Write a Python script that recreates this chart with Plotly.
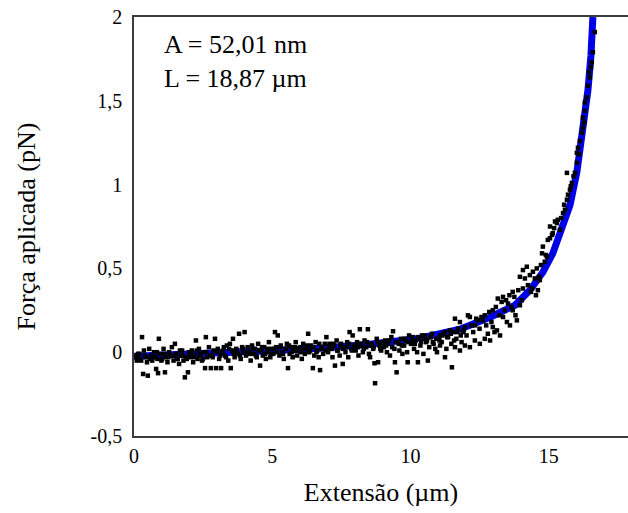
import plotly.graph_objects as go

# Experimental points: extension (um) and applied force (pN)
ext_um = [
    0.04, 0.10, 0.15, 0.21, 0.29, 0.33, 0.36, 0.42, 0.47, 0.50, 0.55, 0.61, 0.66, 0.72, 0.78, 0.80, 0.85, 0.87, 0.90, 0.96,
    1.02, 1.07, 1.12, 1.16, 1.21, 1.27, 1.32, 1.37, 1.43, 1.48, 1.52, 1.58, 1.63, 1.69, 1.74, 1.79, 1.84, 1.88, 1.95, 1.98,
    2.04, 2.09, 2.14, 2.19, 2.24, 2.30, 2.35, 2.41, 2.46, 2.52, 2.57, 2.60, 2.65, 2.71, 2.78, 2.82, 2.88, 2.93, 2.97,
    3.03, 3.08, 3.15, 3.19, 3.25, 3.30, 3.36, 3.41, 3.47, 3.50, 3.55, 3.58, 3.64, 3.70, 3.75, 3.80, 3.86, 3.91, 3.96, 4.00,
    4.05, 4.11, 4.16, 4.22, 4.27, 4.33, 4.38, 4.44, 4.49, 4.56, 4.60, 4.66, 4.71, 4.77, 4.82, 4.88, 4.93, 4.98,
    5.04, 5.10, 5.14, 5.20, 5.26, 5.31, 5.37, 5.42, 5.48, 5.53, 5.57, 5.63, 5.68, 5.74, 5.79, 5.85, 5.90, 5.96,
    6.02, 6.07, 6.12, 6.18, 6.23, 6.30, 6.34, 6.40, 6.47, 6.52, 6.57, 6.63, 6.68, 6.73, 6.78, 6.84, 6.90, 6.96,
    7.02, 7.07, 7.13, 7.18, 7.24, 7.27, 7.33, 7.38, 7.44, 7.49, 7.55, 7.60, 7.65, 7.71, 7.75, 7.80, 7.86, 7.91, 7.96,
    8.02, 8.07, 8.12, 8.17, 8.23, 8.28, 8.34, 8.40, 8.46, 8.50, 8.54, 8.60, 8.65, 8.70, 8.72, 8.78, 8.83, 8.88, 8.94, 8.99,
    9.04, 9.09, 9.15, 9.20, 9.26, 9.31, 9.37, 9.42, 9.44, 9.50, 9.55, 9.60, 9.66, 9.71, 9.77, 9.82, 9.88, 9.90, 9.95,
    10.02, 10.08, 10.13, 10.19, 10.24, 10.27, 10.31, 10.36, 10.42, 10.47, 10.52, 10.57, 10.63, 10.68, 10.73, 10.78, 10.84, 10.90, 10.96,
    11.02, 11.07, 11.07, 11.13, 11.19, 11.25, 11.25, 11.30, 11.36, 11.43, 11.48, 11.50, 11.55, 11.61, 11.61, 11.66, 11.72, 11.79, 11.79, 11.85, 11.90, 11.97, 11.97,
    12.03, 12.08, 12.15, 12.15, 12.21, 12.27, 12.33, 12.33, 12.38, 12.44, 12.50, 12.51, 12.57, 12.62, 12.69, 12.69, 12.74, 12.80, 12.85, 12.88, 12.93, 12.98, 12.98,
    13.04, 13.09, 13.13, 13.16, 13.21, 13.24, 13.30, 13.35, 13.35, 13.41, 13.46, 13.49, 13.53, 13.58, 13.60, 13.65, 13.70, 13.70, 13.76, 13.80, 13.85, 13.90, 13.96, 13.96,
    14.03, 14.07, 14.07, 14.14, 14.21, 14.25, 14.32, 14.36, 14.40, 14.43, 14.50, 14.54, 14.57, 14.61, 14.66, 14.68, 14.72, 14.76, 14.79, 14.86, 14.90, 14.94, 14.97,
    15.05, 15.05, 15.12, 15.15, 15.20, 15.23, 15.30, 15.33, 15.41, 15.45, 15.52, 15.56, 15.59, 15.66, 15.66, 15.70, 15.77, 15.80, 15.84, 15.90,
    15.95, 16.02, 16.02, 16.06, 16.10, 16.13, 16.20, 16.24, 16.24, 16.28, 16.31, 16.31, 16.38, 16.42, 16.46, 16.49, 16.53, 16.56, 16.60, 16.67,
    # dense main band
    0.07, 0.19, 0.26, 0.39, 0.58, 0.69, 0.83, 0.99, 1.10, 1.24, 1.40, 1.55, 1.66, 1.77, 1.91, 2.06, 2.17, 2.27, 2.38, 2.49,
    2.62, 2.74, 2.85, 3.00, 3.12, 3.22, 3.33, 3.44, 3.61, 3.72, 3.83, 3.94, 4.08, 4.19, 4.30, 4.41, 4.52, 4.63, 4.74, 4.85,
    4.96, 5.07, 5.17, 5.28, 5.39, 5.50, 5.61, 5.71, 5.82, 5.93, 6.04, 6.15, 6.26, 6.37, 6.49, 6.60, 6.70, 6.81, 6.93, 7.05,
    7.15, 7.21, 7.35, 7.46, 7.57, 7.68, 7.78, 7.88, 7.99, 8.10, 8.20, 8.31, 8.43, 8.57, 8.67, 8.81, 8.91, 9.02, 9.12, 9.23,
    9.34, 9.47, 9.58, 9.69, 9.80, 9.92, 10.05, 10.16, 10.29, 10.39, 10.50, 10.60, 10.71, 10.81, 10.93, 11.05, 11.16, 11.33, 11.46, 11.58,
    11.69, 11.82, 11.93,
]
force_pn = [
    -0.02, -0.05, -0.01, -0.04, 0.09, -0.13, 0.01, -0.03, -0.06, -0.14, 0.02, -0.02, -0.05, 0.00, -0.03, -0.10, -0.04, -0.125, 0.08, -0.01,
    -0.04, 0.02, -0.12, -0.03, -0.06, 0.00, -0.02, 0.03, -0.05, 0.05, -0.01, -0.04, -0.07, -0.02, 0.01, -0.05, -0.15, -0.03, -0.12, 0.00,
    -0.03, 0.01, -0.06, -0.02, 0.07, -0.04, 0.02, -0.01, -0.05, 0.00, -0.095, 0.09, -0.03, 0.03, -0.095, -0.02, 0.01, 0.08, -0.095,
    0.02, -0.04, -0.095, 0.00, 0.03, -0.02, 0.04, -0.05, 0.05, -0.095, 0.01, 0.08, -0.03, 0.02, -0.01, 0.11, -0.04, 0.03, 0.00, 0.12,
    -0.02, 0.03, 0.00, -0.05, 0.04, -0.01, 0.02, -0.03, 0.05, -0.08, 0.01, -0.02, 0.03, -0.04, 0.00, 0.06, -0.03, 0.02,
    -0.01, 0.12, 0.03, 0.10, -0.02, 0.04, 0.00, -0.04, 0.02, 0.05, -0.095, -0.01, 0.03, -0.03, 0.01, 0.06, -0.02, 0.02,
    0.03, -0.04, 0.05, -0.01, 0.02, 0.11, 0.00, 0.04, -0.095, -0.02, 0.06, 0.01, -0.03, -0.107, 0.03, -0.01, 0.05, 0.09,
    0.00, 0.05, 0.02, -0.03, 0.04, -0.08, 0.07, 0.01, -0.02, 0.05, -0.07, 0.03, 0.00, 0.06, -0.03, 0.12, 0.02, 0.10, 0.04,
    0.01, 0.06, -0.02, 0.137, 0.04, 0.00, 0.07, 0.03, 0.137, -0.01, -0.03, 0.05, 0.02, -0.066, -0.185, 0.08, -0.06, 0.04, 0.01, 0.06,
    0.03, 0.07, 0.00, 0.05, -0.02, 0.09, 0.125, 0.02, -0.06, -0.12, 0.06, 0.01, 0.08, -0.01, 0.04, 0.07, 0.00, -0.06, 0.10,
    0.05, 0.09, 0.02, 0.07, 0.00, -0.06, 0.08, 0.04, 0.10, -0.01, 0.10, 0.06, -0.05, 0.03, 0.09, 0.11, 0.05, 0.02, 0.00,
    0.08, 0.10, 0.04, 0.06, 0.11, 0.12, -0.03, 0.02, 0.09, 0.13, 0.05, -0.09, 0.12, 0.20, 0.03, 0.08, 0.14, 0.18, 0.01, 0.06, 0.12, 0.15, 0.04,
    0.10, 0.22, 0.21, 0.03, 0.16, 0.12, 0.16, 0.07, 0.20, 0.19, 0.14, 0.05, 0.21, 0.19, 0.22, 0.08, 0.16, 0.11, 0.24, 0.07, 0.18, 0.25, 0.15,
    0.12, 0.27, 0.13, 0.32, 0.22, 0.10, 0.30, 0.33, 0.21, 0.25, 0.31, 0.18, 0.29, 0.34, 0.16, 0.27, 0.36, 0.25, 0.33, 0.22, 0.19, 0.37, 0.45, 0.28,
    0.31, 0.49, 0.38, 0.44, 0.51, 0.40, 0.46, 0.36, 0.38, 0.48, 0.44, 0.34, 0.50, 0.37, 0.45, 0.43, 0.52, 0.59, 0.63, 0.54, 0.58, 0.57, 0.67,
    0.75, 0.68, 0.70, 0.71, 0.74, 0.78, 0.77, 0.79, 0.73, 0.80, 0.83, 0.88, 0.85, 0.91, 1.07, 0.94, 0.97, 0.99, 1.01, 1.05,
    1.07, 1.13, 1.19, 1.22, 1.18, 1.26, 1.31, 1.34, 1.40, 1.37, 1.44, 1.49, 1.52, 1.59, 1.67, 1.64, 1.70, 1.73, 1.79, 1.91,
    # dense main band
    -0.03, -0.01, -0.05, -0.02, -0.04, -0.03, 0.00, -0.05, -0.01, -0.03, -0.02, -0.04, 0.01, -0.02, -0.04, -0.01, -0.03, 0.01, -0.02, -0.04,
    0.00, -0.02, -0.03, 0.00, -0.02, 0.01, -0.03, 0.02, -0.01, 0.01, -0.02, 0.02, 0.00, -0.01, 0.02, -0.02, 0.01, 0.03, -0.01, 0.02,
    -0.01, 0.02, 0.00, 0.03, -0.01, 0.02, 0.04, 0.00, 0.03, 0.01, 0.00, 0.02, 0.04, 0.01, 0.03, 0.00, 0.05, 0.02, 0.01, 0.03,
    0.02, 0.05, 0.01, 0.04, 0.02, 0.03, 0.05, 0.01, 0.04, 0.03, 0.05, 0.02, 0.06, 0.04, 0.03, 0.06, 0.02, 0.05, 0.04, 0.07,
    0.03, 0.06, 0.05, 0.04, 0.08, 0.06, 0.07, 0.05, 0.09, 0.06, 0.08, 0.07, 0.09, 0.06, 0.08, 0.07, 0.10, 0.09, 0.11, 0.07,
    0.12, 0.10, 0.13,
]

# Fitted WLC curve
fit_ext = [0.0, 2.39, 4.56, 6.73, 8.54, 10.35, 11.79, 12.88, 13.78, 14.32, 14.79,
           15.15, 15.51, 15.77, 16.02, 16.24, 16.42, 16.53, 16.60]
fit_force = [-0.024, -0.012, 0.006, 0.024, 0.048, 0.084, 0.137, 0.209, 0.280, 0.370, 0.477,
             0.590, 0.758, 0.877, 1.074, 1.325, 1.563, 1.772, 2.0]

x_ticks = [0, 5, 10, 15]
x_ticktext = ["0", "5", "10", "15"]
y_ticks = [-0.5, 0, 0.5, 1, 1.5, 2]
y_ticktext = ["-0,5", "0", "0,5", "1", "1,5", "2"]

fit_labels = ["A = 52,01 nm", "L = 18,87 µm"]

FONT = "Liberation Serif, Times New Roman, serif"
AX = "#3c3c3c"

fig = go.Figure()
fig.add_trace(go.Scatter(
    x=fit_ext, y=fit_force, mode="lines",
    line=dict(color="rgb(0,0,230)", width=7),
    showlegend=False, hoverinfo="skip",
))
fig.add_trace(go.Scatter(
    x=ext_um, y=force_pn, mode="markers",
    marker=dict(symbol="square", size=4.5, color="black", line=dict(width=0)),
    showlegend=False,
))

fig.update_layout(
    width=628, height=513,
    margin=dict(l=134, r=0, t=17, b=77),
    paper_bgcolor="white", plot_bgcolor="white",
    font=dict(family=FONT, color="black", size=20),
    xaxis=dict(
        range=[0, 17.87], showgrid=False, zeroline=False,
        showline=True, linecolor=AX, linewidth=1.5, mirror=True,
        ticks="", tickmode="array", tickvals=x_ticks, ticktext=x_ticktext,
        tickfont=dict(size=20, family=FONT, color="black"),
        ticklabelstandoff=1,
        title=dict(text="Extensão (µm)", font=dict(size=26, family=FONT, color="black"), standoff=17),
    ),
    yaxis=dict(
        range=[-0.5, 2], showgrid=False, zeroline=False,
        showline=True, linecolor=AX, linewidth=1.5, mirror=False,
        ticks="", tickmode="array", tickvals=y_ticks, ticktext=y_ticktext,
        tickfont=dict(size=20, family=FONT, color="black"),
        ticklabelstandoff=6,
        title=dict(text="Força aplicada (pN)", font=dict(size=26, family=FONT, color="black"), standoff=47),
    ),
    annotations=[
        dict(xref="paper", yref="paper", x=(162 - 134) / 494, y=(436 - 44) / 419,
             xanchor="left", yanchor="middle", text=fit_labels[0], showarrow=False,
             font=dict(size=26, family=FONT, color="black")),
        dict(xref="paper", yref="paper", x=(162 - 134) / 494, y=(436 - 79) / 419,
             xanchor="left", yanchor="middle", text=fit_labels[1], showarrow=False,
             font=dict(size=26, family=FONT, color="black")),
    ],
)

fig.write_html("out.html")
